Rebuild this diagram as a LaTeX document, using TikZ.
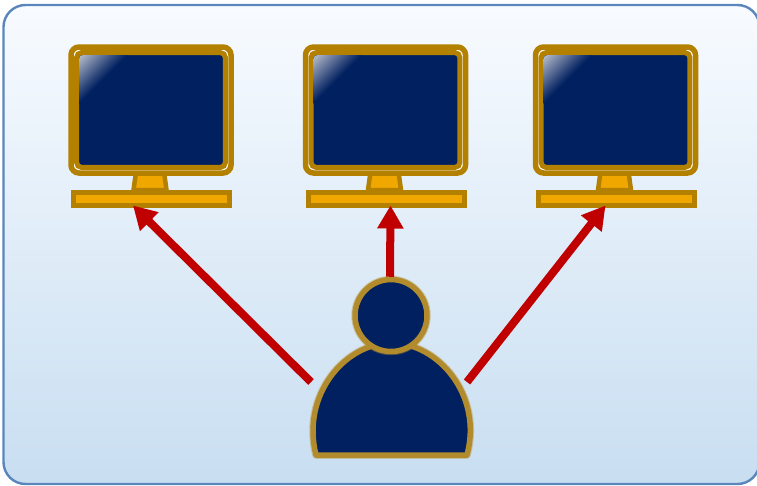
\documentclass[tikz,border=0pt]{standalone}
\usetikzlibrary{arrows.meta,calc}
\definecolor{navy}{HTML}{002060}
\definecolor{gold}{HTML}{B38000}
\definecolor{amber}{HTML}{F0A800}
\definecolor{soft}{HTML}{B28C2C}
\definecolor{redline}{HTML}{C00000}
\definecolor{edge}{HTML}{5B86BC}
\definecolor{skytop}{HTML}{F8FBFF}
\definecolor{skymid}{HTML}{E6EFFA}
\definecolor{skylow}{HTML}{C8DEF1}
\definecolor{glosslight}{HTML}{DCDCE0}
\pgfdeclareverticalshading{gloss}{100bp}{color(0bp)=(navy);color(50bp)=(navy);color(92bp)=(glosslight);color(100bp)=(glosslight)}
\tikzset{
  panel/.style={draw=edge,line width=2.4pt,rounded corners=22pt},
  bezel/.style={draw=gold,line width=5.5pt,rounded corners=8pt,fill=white},
  innerframe/.style={draw=gold,line width=5pt,rounded corners=5pt,fill=navy},
  neck/.style={draw=gold,line width=4.5pt,fill=amber,line join=miter},
  basebox/.style={draw=gold,line width=5pt,fill=amber,inner sep=0pt,minimum width=156pt,minimum height=13pt},
  link/.style={draw=redline,line width=8pt,-{Triangle[width=25pt,length=23pt]}},
  personglow/.style={draw=soft,draw opacity=.4,line width=7.5pt,line join=round},
  personline/.style={draw=soft,line width=5.5pt,fill=navy,line join=round},
  headglow/.style={circle,draw=soft,draw opacity=.4,line width=7.5pt,inner sep=0pt,minimum size=72pt},
  headnode/.style={circle,draw=soft,line width=5.5pt,fill=navy,inner sep=0pt,minimum size=72pt},
}
\begin{document}
\begin{tikzpicture}[x=1pt,y=-1pt]
\useasboundingbox (0,0) rectangle (757,485);
\clip (0,0) rectangle (757,485);
\path[panel,top color=skytop,middle color=skymid,bottom color=skylow]
  (3.5,5) rectangle (759.5,484);
\foreach \name/\sx in {one/0,two/234.5,three/464.5}{
  \begin{scope}[xshift=\sx pt]
    \path[neck] (136,172) -- (133.5,190) -- (166.5,190) -- (164,172) -- cycle;
    \path[bezel] (71,47) rectangle (231,173);
    \path[innerframe] (76.6,52.6) rectangle (225.4,167.4);
    \begin{scope}
      \clip[rounded corners=4pt] (79,55) rectangle (223,165);
      \shade[shading=gloss,shading angle=45] (79,55) rectangle (127,103);
    \end{scope}
    \node[basebox] (base\name) at (151.5,199) {};
  \end{scope}
}
% person
\draw[personglow] (316,455) .. controls (301,395) and (345,343) .. (391.5,343)
  .. controls (438,343) and (483,395) .. (467,455) -- cycle;
\path[personline] (316,455) .. controls (301,395) and (345,343) .. (391.5,343)
  .. controls (438,343) and (483,395) .. (467,455) -- cycle;
\node[headglow] (headhalo) at (391,315.5) {};
\node[headnode] (head) at (391,315.5) {};
\coordinate (bodyleft) at (311,382);
\coordinate (bodyright) at (467,382);
% arrows
\draw[link] (head.north -| 390,0) -- ($(basetwo.south)+(4.5,-2.5)$);
\draw[link] (bodyleft) -- ($(baseone.south)+(-18.5,-2.5)$);
\draw[link] (bodyright) -- ($(basethree.south)+(-10.5,-2.5)$);
\end{tikzpicture}
\end{document}
